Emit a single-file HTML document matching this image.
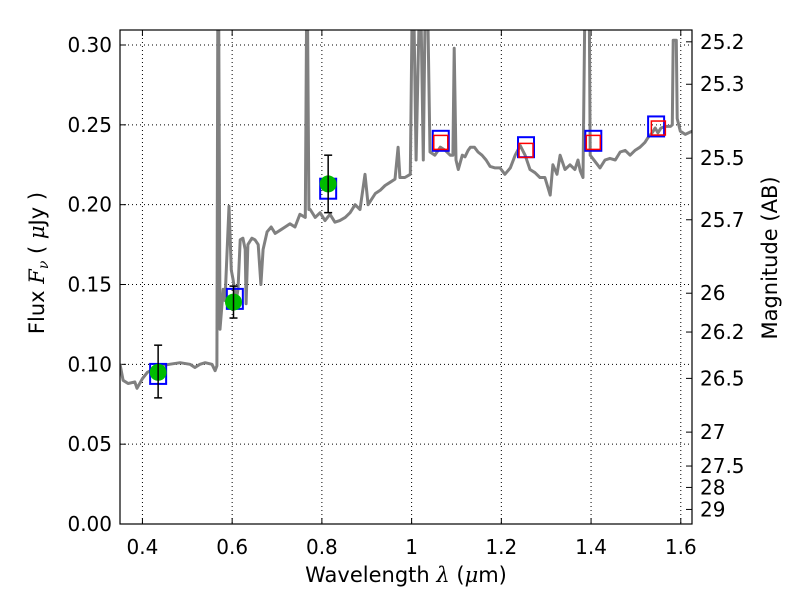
<!DOCTYPE html>
<html><head><meta charset="utf-8"><style>
body{margin:0;background:#fff;}
svg{display:block;font-family:"DejaVu Sans","Liberation Sans",sans-serif;}
</style></head><body>
<svg id="chart" width="800" height="600" xmlns="http://www.w3.org/2000/svg"></svg>
<script>
const specWave=[0.35,0.357,0.368,0.383,0.388,0.40,0.411,0.418,0.44,0.46,0.484,0.506,0.517,0.528,0.54,0.555,0.562,0.566,0.568,0.570,0.573,0.58,0.584,0.593,0.598,0.602,0.609,0.613,0.618,0.624,0.629,0.631,0.635,0.644,0.651,0.658,0.664,0.669,0.678,0.687,0.696,0.707,0.718,0.729,0.74,0.751,0.763,0.766,0.768,0.771,0.774,0.785,0.796,0.807,0.818,0.829,0.84,0.852,0.863,0.874,0.885,0.896,0.903,0.919,0.93,0.941,0.952,0.963,0.97,0.974,0.985,0.997,1.001,1.005,1.01,1.017,1.021,1.026,1.03,1.036,1.041,1.052,1.064,1.075,1.086,1.092,1.095,1.099,1.104,1.113,1.119,1.126,1.131,1.14,1.148,1.157,1.166,1.175,1.186,1.197,1.208,1.22,1.231,1.242,1.253,1.264,1.275,1.286,1.297,1.309,1.315,1.324,1.331,1.342,1.353,1.364,1.371,1.376,1.382,1.386,1.392,1.396,1.398,1.42,1.431,1.442,1.454,1.465,1.476,1.487,1.498,1.509,1.52,1.527,1.536,1.543,1.549,1.556,1.566,1.577,1.581,1.583,1.59,1.592,1.599,1.61,1.625];
const specFlux=[0.100,0.090,0.088,0.089,0.085,0.091,0.095,0.096,0.099,0.100,0.101,0.100,0.098,0.100,0.101,0.100,0.096,0.099,0.32,0.32,0.122,0.147,0.140,0.199,0.159,0.153,0.140,0.147,0.178,0.179,0.172,0.138,0.175,0.179,0.178,0.175,0.150,0.172,0.183,0.186,0.182,0.184,0.186,0.188,0.186,0.194,0.192,0.32,0.32,0.197,0.197,0.192,0.195,0.190,0.194,0.189,0.190,0.192,0.195,0.200,0.197,0.219,0.200,0.207,0.209,0.212,0.214,0.216,0.236,0.217,0.217,0.219,0.32,0.32,0.228,0.32,0.32,0.228,0.32,0.32,0.233,0.231,0.236,0.234,0.231,0.231,0.298,0.228,0.222,0.231,0.230,0.234,0.236,0.236,0.233,0.231,0.228,0.224,0.223,0.223,0.219,0.223,0.231,0.237,0.231,0.222,0.220,0.217,0.217,0.206,0.225,0.219,0.231,0.222,0.225,0.222,0.228,0.221,0.217,0.32,0.32,0.32,0.231,0.223,0.228,0.229,0.228,0.233,0.234,0.231,0.234,0.236,0.239,0.242,0.245,0.248,0.245,0.248,0.249,0.249,0.25,0.303,0.303,0.254,0.246,0.244,0.246];
const photWave=[0.435,0.603,0.814];
const photFlux=[0.095,0.139,0.213];
const photErrLo=[0.079,0.129,0.195];
const photErrHi=[0.112,0.149,0.231];
const modelWave=[0.435,0.606,0.814,1.065,1.255,1.405,1.545];
const modelFlux=[0.094,0.141,0.210,0.240,0.236,0.240,0.249];
const nirWave=[1.065,1.255,1.405,1.550];
const nirFlux=[0.239,0.234,0.239,0.248];
const xTicks=[0.4,0.6,0.8,1.0,1.2,1.4,1.6];
const xTickLabels=["0.4","0.6","0.8","1","1.2","1.4","1.6"];
const yTicks=[0,0.05,0.10,0.15,0.20,0.25,0.30];
const yTickLabels=["0.00","0.05","0.10","0.15","0.20","0.25","0.30"];
const magTicks=[25.2,25.3,25.5,25.7,26,26.2,26.5,27,27.5,28,29];

const L=120,T=30,R=692,B=524,XMIN=0.35,XMAX=1.625,YMIN=0,YMAX=0.3094;
const sx=v=>L+(v-XMIN)/(XMAX-XMIN)*(R-L);
const sy=v=>B-(v-YMIN)/(YMAX-YMIN)*(B-T);
const NS="http://www.w3.org/2000/svg";
const svg=document.getElementById('chart');
function mk(tag,attrs,parent){const e=document.createElementNS(NS,tag);for(const k in attrs)e.setAttribute(k,attrs[k]);(parent||svg).appendChild(e);return e;}
const defs=mk('defs',{});const cp=mk('clipPath',{id:'clip'},defs);mk('rect',{x:L,y:T,width:R-L,height:B-T},cp);
const grid=mk('g',{});


xTicks.forEach((t,i)=>{
 const x=sx(t);
 const gl=mk('line',{x1:x,x2:x,y1:T,y2:B,stroke:'#000','stroke-width':1,'stroke-dasharray':'1,3'},grid);
 
 
 mk('line',{x1:x,x2:x,y1:B,y2:B-6,stroke:'#000'});
 mk('line',{x1:x,x2:x,y1:T,y2:T+6,stroke:'#000'});
 const tx=mk('text',{x:x,y:B+30,'text-anchor':'middle','font-size':20});
 tx.textContent=xTickLabels[i];
 
 
});
yTicks.forEach((t,i)=>{
 const y=sy(t);
 const gl=mk('line',{x1:L,x2:R,y1:y,y2:y,stroke:'#000','stroke-width':1,'stroke-dasharray':'1,3'},grid);
 
 
 mk('line',{x1:L,x2:L+6,y1:y,y2:y,stroke:'#000'});
 const tx=mk('text',{x:L-8,y:y+7,'text-anchor':'end','font-size':20});
 tx.textContent=yTickLabels[i];
 
 
});
magTicks.forEach(m=>{
 const f=Math.pow(10,(23.9-m)/2.5);const y=sy(f);
 mk('line',{x1:R,x2:R-6,y1:y,y2:y,stroke:'#000'});
 const tx=mk('text',{x:R+8,y:y+7,'font-size':20});
 tx.textContent=String(m);
 
 
});
const plot=mk('g',{'clip-path':'url(#clip)'});
const pts=specWave.map((w,i)=>sx(w).toFixed(1)+','+sy(specFlux[i]).toFixed(1)).join(' ');
const spec=mk('polyline',{points:pts,fill:'none',stroke:'#808080','stroke-width':3,'stroke-linejoin':'round'},plot);


modelWave.forEach((w,i)=>{
 const r=mk('rect',{x:sx(w)-8,y:sy(modelFlux[i])-10,width:16,height:20,fill:'none',stroke:'#0000ff','stroke-width':2},plot);
 
 
});
nirWave.forEach((w,i)=>{
 const r=mk('rect',{x:sx(w)-7,y:sy(nirFlux[i])-7,width:14,height:14,fill:'none',stroke:'#ff0000','stroke-width':1.5},plot);
 
 
});
photWave.forEach((w,i)=>{
 const x=sx(w);
 const g=mk('g',{},plot);
 
 
 mk('circle',{cx:x,cy:sy(photFlux[i]),r:8.5,fill:'#00bb00'},g);
 mk('line',{x1:x,x2:x,y1:sy(photErrLo[i]),y2:sy(photErrHi[i]),stroke:'#000','stroke-width':1.5},g);
 mk('line',{x1:x-4,x2:x+4,y1:sy(photErrLo[i]),y2:sy(photErrLo[i]),stroke:'#000','stroke-width':1.5},g);
 mk('line',{x1:x-4,x2:x+4,y1:sy(photErrHi[i]),y2:sy(photErrHi[i]),stroke:'#000','stroke-width':1.5},g);
});
const fr=mk('rect',{x:L,y:T,width:R-L,height:B-T,fill:'none',stroke:'#000','stroke-width':1.2});


const xl=mk('text',{x:406,y:582,'text-anchor':'middle','font-size':21});
xl.innerHTML='Wavelength  <tspan font-style="italic" font-family="DejaVu Serif, serif">λ</tspan> (<tspan font-style="italic" font-family="DejaVu Serif, serif">μ</tspan>m)';


const yl=mk('text',{x:0,y:0,'text-anchor':'middle','font-size':21,transform:'translate(44,263) rotate(-90)'});
yl.innerHTML='Flux  <tspan font-style="italic" font-family="DejaVu Serif, serif">F<tspan font-size="14" dy="4">ν</tspan></tspan><tspan dy="-4">  ( </tspan><tspan font-style="italic" font-family="DejaVu Serif, serif">μ</tspan>Jy )';


const rl=mk('text',{x:0,y:0,'text-anchor':'middle','font-size':21,transform:'translate(777,258) rotate(-90)'});
rl.textContent='Magnitude (AB)';


</script>
</body></html>
